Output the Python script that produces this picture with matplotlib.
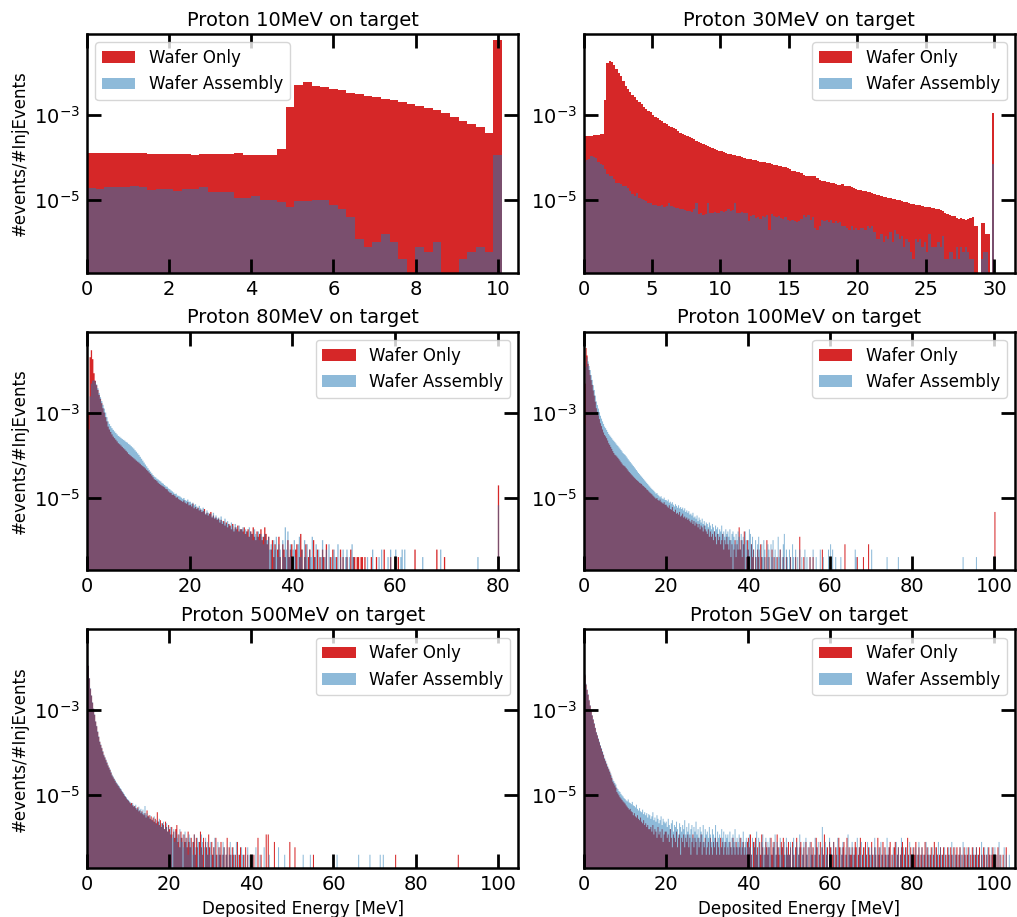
import numpy as np
import matplotlib
matplotlib.use('Agg')
import matplotlib.pyplot as plt
from matplotlib.ticker import NullLocator

N_INJ = 5e6  # injected protons per beam energy

titles = ['Proton 10MeV on target', 'Proton 30MeV on target',
          'Proton 80MeV on target', 'Proton 100MeV on target',
          'Proton 500MeV on target', 'Proton 5GeV on target']
x_max = [10.5, 31.5, 84, 105, 105, 105]
x_ticks = [range(0, 11, 2), range(0, 31, 5), range(0, 81, 20),
           range(0, 101, 20), range(0, 101, 20), range(0, 101, 20)]
legend_loc = ['upper left'] + ['upper right'] * 5

# counts per bin, wafer only (red) and wafer assembly (blue)
wafer10 = [650, 626, 650, 650, 626, 650, 626, 592, 592, 592,
           592, 592, 584, 612, 592, 592, 612, 626, 564, 564,
           564, 574, 784, 7620, 25700, 29800, 23900, 22600, 20700, 18900,
           16600, 15700, 14100, 12900, 11960, 10900, 10000, 8960, 8040, 7200,
           6340, 5560, 4400, 3680, 3060, 2560, 1870, 290000]
assembly10 = [96, 91, 102, 102, 102, 109, 100, 85, 91, 91,
              80, 91, 91, 100, 76, 76, 76, 57, 57, 63,
              51, 51, 44, 35, 48, 48, 51, 51, 37, 31,
              20, 6, 4, 5, 8, 5, 2, 0, 4, 3,
              5, 0, 0, 2, 3, 4, 3, 575]

wafer30 = [1600, 1580, 1620, 1600, 1650, 1680, 1700, 1750, 1800, 10900,
           85000, 92700, 88000, 75000, 61500, 49000, 40000, 30600, 24500, 20000,
           17000, 15000, 13000, 11300, 10000, 9000, 7800, 6800, 6300, 5700,
           4900, 4500, 4150, 3810, 3500, 3250, 3050, 2800, 2600, 2400,
           2280, 2100, 1920, 1800, 1700, 1600, 1490, 1400, 1330, 1215,
           1150, 1090, 1030, 960, 920, 890, 830, 800, 760, 725,
           690, 665, 635, 610, 590, 568, 555, 540, 525, 505,
           485, 470, 460, 450, 435, 425, 410, 400, 390, 385,
           375, 360, 350, 340, 330, 320, 310, 300, 290, 275,
           260, 242, 235, 225, 221, 210, 195, 185, 180, 182,
           178, 180, 160, 150, 140, 138, 135, 130, 128, 126,
           120, 115, 112, 118, 108, 105, 106, 100, 95, 90,
           86, 84, 82, 80, 78, 76, 72, 70, 66, 64,
           62, 60, 58, 56, 55, 54, 52, 50, 51, 48,
           45, 44, 42, 41, 40, 38, 37, 37, 36, 35,
           34, 34, 33, 32, 30, 30, 29, 27, 25, 23,
           22, 21, 21, 19, 18, 19, 18, 17, 18, 19,
           20, 12, 12, 0, 14, 14, 8, 8, 0, 5520]
assembly30 = [381, 430, 457, 528, 510, 473, 381, 348, 330, 265,
              202, 184, 184, 154, 128, 128, 117, 107, 107, 93,
              82, 70, 62, 74, 57, 52, 50, 47, 43, 43,
              39, 39, 36, 36, 37, 35, 36, 43, 36, 35,
              33, 33, 30, 31, 29, 28, 27, 26, 30, 43,
              23, 24, 22, 23, 43, 25, 24, 26, 25, 24,
              27, 26, 28, 30, 28, 29, 43, 25, 24, 26,
              25, 24, 16, 21, 22, 19, 20, 18, 21, 20,
              22, 10, 23, 21, 20, 21, 19, 18, 20, 17,
              16, 17, 16, 15, 16, 18, 22, 20, 22, 17,
              20, 11, 10, 12, 17, 16, 17, 15, 17, 14,
              16, 14, 15, 12, 12, 11, 10, 12, 10, 11,
              10, 11, 11, 10, 12, 11, 12, 9, 6, 6,
              8, 5, 7, 6, 9, 5, 10, 8, 6, 7,
              4, 6, 5, 3, 2, 6, 5, 6, 4, 5,
              3, 8, 4, 4, 4, 5, 4, 7, 2, 2,
              3, 3, 2, 4, 2, 4, 3, 4, 3, 2,
              2, 0, 0, 0, 2, 3, 3, 0, 0, 341]

# 0.25 MeV bins from here on, one row per 5 MeV
wafer80 = [4500, 5000, 100000, 146000, 90000, 42000, 28000, 22000, 17000, 13000, 10500, 8300, 6300, 5000, 3900, 3100, 2340, 2000, 1750, 1530,
           1360, 1250, 1150, 1050, 950, 900, 840, 780, 725, 680, 630, 580, 530, 500, 470, 445, 420, 395, 370, 350,
           333, 312, 290, 275, 260, 243, 225, 210, 194, 180, 165, 150, 135, 130, 122, 112, 105, 100, 95, 91,
           87, 80, 78, 70, 66, 64, 58, 59, 55, 50, 51, 46, 44, 42, 40, 43, 38, 36, 39, 33,
           34, 31, 36, 28, 30, 27, 29, 25, 26, 23, 24, 27, 20, 22, 19, 21, 23, 17, 19, 16,
           17, 15, 16, 13, 15, 12, 14, 11, 13, 10, 12, 11, 9, 12, 8, 10, 9, 11, 8, 9,
           9, 8, 10, 7, 8, 9, 6, 8, 7, 10, 6, 5, 8, 6, 7, 9, 5, 6, 10, 7,
           4, 6, 0, 3, 5, 2, 4, 0, 3, 6, 2, 0, 4, 3, 2, 0, 5, 2, 3, 4,
           2, 0, 3, 4, 0, 2, 7, 3, 0, 2, 4, 0, 2, 3, 0, 0, 5, 2, 0, 3,
           0, 2, 0, 3, 2, 0, 4, 0, 0, 2, 0, 3, 0, 0, 2, 0, 0, 3, 0, 2]
wafer80_tail = {50.6: 2, 51.4: 3, 51.9: 2, 52.1: 2, 52.6: 2, 52.9: 2, 53.4: 2,
                53.6: 2, 54.1: 2, 55.4: 2, 56.4: 2, 57.9: 3, 59.1: 2, 60.6: 2,
                63.9: 3, 68.1: 3, 69.6: 2, 80.1: 97}
assembly80 = [1700, 2000, 12000, 24000, 28000, 29000, 27000, 23000, 18700, 14500, 11500, 9300, 7600, 6200, 5000, 3900, 3100, 2700, 2400, 2150,
              1960, 1800, 1660, 1530, 1410, 1350, 1270, 1200, 1140, 1090, 1020, 980, 915, 870, 810, 760, 710, 650, 600, 550,
              505, 455, 410, 370, 333, 300, 272, 246, 224, 204, 186, 170, 156, 150, 139, 133, 126, 120, 111, 106,
              99, 92, 90, 82, 79, 74, 70, 66, 61, 62, 56, 55, 53, 50, 47, 49, 44, 42, 45, 40,
              40, 36, 38, 33, 35, 31, 28, 32, 28, 26, 29, 24, 21, 25, 22, 20, 21, 18, 22, 17,
              19, 16, 17, 15, 18, 14, 13, 16, 12, 14, 12, 10, 13, 11, 9, 12, 10, 8, 11, 9,
              9, 10, 7, 9, 8, 6, 10, 8, 7, 5, 9, 7, 6, 8, 5, 7, 6, 4, 7, 5,
              5, 6, 3, 4, 0, 5, 3, 6, 2, 4, 3, 0, 5, 2, 10, 3, 8, 2, 4, 0,
              3, 5, 2, 0, 4, 6, 2, 3, 0, 5, 2, 4, 0, 3, 2, 6, 0, 2, 4, 0,
              3, 0, 2, 5, 0, 2, 3, 0, 4, 0, 2, 0, 3, 2, 0, 4, 0, 2, 0, 3]
assembly80_tail = {50.3: 2, 50.6: 3, 51.1: 2, 51.6: 4, 51.9: 2, 54.6: 2, 55.6: 3,
                   56.9: 2, 57.4: 3, 58.6: 2, 59.1: 3, 60.1: 3, 61.1: 2, 61.4: 3,
                   61.9: 3, 65.4: 2, 68.9: 3, 76.1: 2, 80.1: 33}

wafer100 = [2800, 24000, 165000, 110000, 70000, 50000, 38000, 29000, 22400, 16500, 12500, 9000, 6320, 5200, 4300, 3500, 2800, 2400, 2000, 1700,
            1490, 1380, 1250, 1100, 950, 870, 780, 700, 620, 560, 510, 490, 461, 430, 400, 370, 340, 315, 290, 280,
            268, 250, 232, 215, 200, 188, 176, 166, 156, 147, 139, 131, 125, 119, 112, 108, 105, 97, 93, 88,
            84, 78, 75, 70, 66, 63, 60, 56, 53, 50, 47, 49, 44, 42, 45, 40, 38, 36, 39, 34,
            34, 31, 29, 33, 27, 26, 30, 24, 23, 26, 21, 22, 20, 23, 18, 19, 21, 17, 18, 16,
            17, 15, 16, 14, 13, 15, 12, 14, 11, 13, 12, 10, 12, 9, 11, 10, 8, 11, 9, 8,
            7, 9, 6, 8, 6, 7, 5, 8, 6, 4, 7, 5, 6, 4, 5, 7, 3, 5, 4, 6,
            4, 3, 5, 2, 4, 0, 3, 5, 2, 4, 3, 10, 3, 5, 2, 4, 8, 0, 2, 5,
            3, 2, 0, 4, 2, 3, 0, 2, 0, 3, 2, 0, 4, 2, 0, 0, 2, 0, 5, 0,
            2, 0, 0, 3, 0, 2, 0, 0, 2, 0, 0, 3, 0, 0, 2, 0, 0, 2, 0, 0]
wafer100_tail = {50.4: 2, 51.6: 2, 52.6: 6, 53.6: 2, 55.1: 2, 55.9: 2, 58.1: 3,
                 63.6: 4, 66.6: 2, 68.1: 2, 69.4: 4, 100.1: 23}
assembly100 = [2500, 2600, 60000, 100000, 80000, 62000, 50000, 38000, 29300, 22000, 17000, 12500, 9100, 7500, 6200, 5100, 4200, 3600, 3100, 2700,
               2340, 2150, 1950, 1750, 1570, 1450, 1350, 1250, 1150, 1080, 1010, 940, 870, 820, 760, 710, 660, 610, 560, 530,
               505, 470, 435, 400, 370, 345, 320, 298, 278, 258, 240, 222, 205, 190, 178, 166, 156, 146, 136, 127,
               119, 111, 104, 97, 91, 85, 80, 76, 72, 67, 62, 64, 58, 55, 51, 54, 48, 46, 50, 44,
               44, 41, 45, 38, 40, 36, 39, 34, 31, 35, 32, 29, 33, 28, 30, 27, 29, 25, 28, 23,
               25, 22, 24, 20, 21, 19, 22, 17, 18, 16, 19, 14, 17, 15, 13, 16, 12, 14, 11, 13,
               12, 10, 13, 11, 9, 12, 10, 8, 11, 9, 10, 7, 9, 8, 11, 7, 8, 6, 9, 7,
               8, 6, 9, 5, 7, 8, 6, 4, 7, 5, 8, 6, 3, 7, 5, 6, 4, 8, 5, 3,
               5, 9, 7, 4, 6, 3, 0, 5, 2, 4, 6, 3, 0, 4, 2, 5, 3, 0, 2, 4,
               3, 0, 4, 2, 5, 0, 3, 2, 0, 6, 2, 3, 0, 2, 4, 7, 0, 3, 2, 0]
assembly100_tail = {50.1: 3, 50.4: 2, 50.9: 4, 51.1: 2, 51.6: 3, 52.1: 2, 52.6: 3,
                    53.1: 2, 53.9: 3, 54.4: 2, 55.1: 2, 55.9: 3, 56.6: 2, 57.6: 3,
                    58.4: 2, 59.6: 3, 60.1: 4, 60.6: 3, 61.4: 2, 62.6: 2, 66.1: 3,
                    66.4: 2, 70.1: 3, 73.9: 2, 76.6: 2, 92.4: 2, 95.6: 2, 100.1: 2}

wafer500 = [110000, 55000, 28000, 16000, 11000, 7500, 5400, 3900, 2700, 2100, 1550, 1180, 900, 760, 640, 530, 436, 385, 335, 290,
            250, 222, 196, 170, 146, 132, 120, 108, 97, 90, 83, 76, 70, 64, 59, 54, 49, 46, 42, 39,
            37, 34, 32, 33, 29, 27, 28, 25, 23, 26, 21, 22, 19, 21, 18, 17, 19, 15, 22, 16,
            17, 14, 16, 13, 15, 12, 14, 11, 20, 12, 10, 13, 9, 11, 10, 8, 12, 9, 7, 10,
            8, 6, 9, 0, 7, 5, 8, 10, 4, 6, 3, 7, 5, 0, 6, 4, 5, 3, 7, 4,
            3, 5, 0, 4, 6, 2, 5, 3, 0, 4, 7, 3, 2, 5, 0, 4, 3, 2, 6, 3,
            0, 4, 2, 3, 0, 5, 2, 0, 3, 2, 4, 0, 2, 3, 0, 2, 5, 0, 3, 2,
            0, 3, 2, 0, 2, 0, 4, 0, 2, 3, 0, 0, 2, 0, 3, 0, 2, 0, 0, 2]
wafer500_tail = {40.6: 2, 41.6: 5, 42.4: 2, 43.6: 6, 44.1: 6, 45.6: 4, 49.4: 4,
                 50.6: 3, 55.1: 2, 75.1: 2, 90.4: 2}
assembly500 = [105000, 56000, 28500, 16500, 11200, 7700, 5500, 4000, 2750, 2150, 1600, 1220, 930, 790, 660, 550, 455, 400, 350, 305,
               262, 230, 206, 178, 154, 140, 125, 115, 103, 95, 88, 82, 74, 69, 62, 58, 53, 48, 45, 41,
               39, 36, 34, 30, 33, 29, 27, 30, 25, 24, 27, 22, 24, 20, 23, 19, 28, 17, 19, 16,
               15, 17, 13, 14, 12, 16, 11, 13, 10, 12, 14, 9, 11, 10, 12, 8, 9, 11, 7, 9,
               7, 9, 5, 6, 8, 4, 7, 5, 6, 3, 8, 5, 4, 6, 3, 7, 4, 5, 2, 6,
               5, 3, 4, 2, 6, 3, 0, 5, 4, 2, 3, 6, 4, 0, 3, 5, 2, 4, 3, 2,
               4, 2, 0, 3, 5, 2, 0, 4, 2, 3, 0, 2, 4, 3, 0, 2, 3, 0, 2, 4,
               2, 0, 3, 2, 0, 4, 0, 2, 0, 0, 3, 2, 0, 2, 0, 0, 3, 0, 2, 0]
assembly500_tail = {40.4: 2, 41.1: 3, 42.1: 2, 43.1: 3, 44.4: 2, 46.6: 3, 48.1: 2,
                    52.6: 2, 54.4: 2, 60.9: 2, 66.1: 2, 68.9: 2, 71.4: 2, 72.1: 2}

wafer5000 = [57000, 33000, 20000, 15000, 11500, 8500, 6400, 4900, 3750, 3000, 2400, 1900, 1500, 1270, 1050, 880, 730, 620, 520, 440,
             360, 315, 270, 232, 205, 178, 152, 128, 105, 95, 85, 76, 60, 55, 50, 45, 42, 39, 36, 34,
             32, 29, 27, 25, 23, 24, 21, 20, 17, 19, 16, 15, 17, 14, 13, 15, 12, 11, 13, 10,
             11, 9, 10, 8, 8, 9, 7, 10, 6, 8, 7, 5, 9, 6, 7, 5, 8, 4, 6, 7,
             7, 5, 6, 4, 8, 5, 3, 6, 5, 4, 7, 3, 5, 6, 2, 5, 4, 6, 3, 5,
             4, 6, 3, 5, 2, 4, 6, 3, 5, 4, 2, 5, 3, 4, 6, 2, 4, 3, 5, 2,
             3, 4, 2, 5, 3, 2, 4, 3, 5, 2, 4, 3, 2, 5, 3, 4, 2, 3, 4, 2,
             3, 2, 4, 3, 2, 5, 3, 2, 4, 3, 2, 3, 5, 2, 3, 4, 2, 3, 2, 4,
             5, 3, 6, 2, 0, 4, 3, 5, 2, 3, 0, 4, 2, 6, 3, 0, 2, 4, 3, 2,
             3, 0, 5, 2, 3, 4, 0, 2, 6, 3, 2, 0, 4, 3, 5, 2, 0, 3, 2, 4,
             2, 3, 0, 4, 2, 0, 3, 5, 0, 2, 3, 4, 0, 2, 3, 0, 4, 2, 0, 3,
             0, 4, 2, 3, 0, 2, 5, 3, 0, 2, 4, 0, 3, 2, 6, 0, 2, 3, 0, 4,
             3, 0, 2, 4, 0, 3, 2, 0, 5, 3, 0, 2, 3, 4, 0, 2, 5, 0, 3, 2,
             2, 3, 0, 2, 4, 3, 0, 2, 3, 5, 0, 2, 3, 0, 4, 2, 0, 3, 2, 0,
             4, 2, 0, 3, 2, 0, 5, 2, 3, 0, 2, 4, 0, 3, 2, 0, 2, 3, 4, 0,
             2, 0, 3, 4, 0, 2, 3, 0, 2, 3, 4, 0, 2, 3, 0, 5, 2, 0, 3, 2,
             0, 3, 2, 4, 0, 2, 3, 0, 2, 3, 0, 2, 4, 0, 3, 2, 0, 2, 3, 0,
             2, 4, 0, 3, 2, 0, 2, 3, 0, 2, 3, 0, 2, 0, 3, 2, 0, 3, 2, 0,
             3, 0, 2, 3, 0, 2, 3, 0, 2, 0, 3, 2, 0, 2, 3, 0, 2, 0, 3, 2,
             0, 2, 3, 0, 2, 3, 0, 2, 0, 3, 2, 0, 2, 0, 3, 2, 0, 2, 3, 0,
             0, 2, 0, 3, 0, 2, 0, 0, 2, 0, 0, 3, 0, 0, 0, 0, 0, 0, 0, 0]
assembly5000 = [60000, 35000, 21000, 15500, 12000, 8800, 6600, 5000, 3850, 3100, 2500, 1950, 1550, 1320, 1100, 920, 760, 650, 550, 460,
                380, 330, 285, 245, 215, 190, 165, 140, 118, 108, 98, 90, 75, 70, 63, 60, 54, 50, 47, 43,
                41, 38, 36, 40, 34, 33, 31, 35, 29, 28, 26, 30, 24, 22, 25, 21, 20, 23, 18, 20,
                17, 19, 15, 18, 17, 14, 16, 20, 13, 15, 12, 17, 14, 11, 13, 16, 10, 14, 12, 11,
                12, 9, 14, 10, 8, 11, 13, 7, 10, 9, 12, 8, 6, 11, 9, 7, 10, 8, 13, 6,
                9, 7, 11, 6, 8, 10, 5, 9, 7, 12, 6, 8, 5, 9, 7, 6, 10, 4, 8, 6,
                7, 5, 9, 6, 4, 8, 6, 5, 10, 4, 7, 5, 6, 3, 8, 5, 7, 4, 6, 5,
                6, 4, 7, 3, 5, 6, 4, 8, 3, 5, 4, 6, 3, 5, 4, 7, 3, 4, 5, 3,
                4, 6, 3, 2, 5, 0, 4, 3, 7, 2, 5, 3, 0, 4, 6, 2, 3, 5, 2, 4,
                3, 5, 2, 0, 4, 3, 6, 2, 4, 0, 3, 5, 2, 3, 0, 4, 2, 5, 3, 2,
                2, 4, 0, 3, 5, 2, 0, 4, 3, 2, 6, 0, 3, 2, 4, 0, 5, 2, 3, 0,
                4, 2, 3, 0, 2, 5, 3, 0, 4, 2, 0, 3, 9, 2, 0, 4, 3, 2, 0, 5,
                2, 3, 0, 4, 2, 0, 3, 5, 2, 0, 3, 2, 4, 0, 2, 3, 0, 6, 2, 3,
                0, 4, 2, 3, 0, 2, 5, 0, 3, 2, 4, 0, 2, 3, 0, 2, 4, 0, 3, 2,
                3, 0, 2, 5, 3, 0, 2, 3, 0, 4, 2, 0, 3, 2, 0, 5, 2, 3, 0, 2,
                0, 3, 2, 0, 4, 2, 3, 0, 2, 5, 0, 3, 2, 0, 3, 2, 0, 4, 2, 0,
                3, 2, 0, 3, 2, 0, 4, 2, 0, 3, 2, 0, 2, 4, 0, 3, 2, 0, 2, 3,
                0, 2, 3, 0, 2, 4, 0, 3, 2, 0, 2, 3, 0, 2, 0, 3, 2, 0, 4, 2,
                0, 3, 2, 0, 2, 0, 3, 2, 0, 4, 2, 0, 3, 0, 2, 3, 0, 2, 0, 3,
                2, 0, 3, 2, 0, 2, 0, 4, 2, 0, 3, 0, 2, 3, 0, 2, 0, 3, 0, 2,
                3, 0, 2, 0, 4, 0, 2, 0, 0, 3, 0, 2, 0, 0, 2, 0, 0, 0, 0, 0]


def per_event(edges, dense, tail=None):
    n = np.zeros(len(edges) - 1)
    n[:len(dense)] = dense
    for e, k in (tail or {}).items():
        n[np.searchsorted(edges, e) - 1] += k
    return n / N_INJ


edges10 = np.linspace(0, 10.1, 49)
edges30 = np.linspace(0, 30, 181)
edges80 = np.arange(322) * 0.25
edges100 = np.arange(402) * 0.25
edges105 = np.arange(421) * 0.25

hists = [
    (edges10, per_event(edges10, wafer10), per_event(edges10, assembly10)),
    (edges30, per_event(edges30, wafer30), per_event(edges30, assembly30)),
    (edges80, per_event(edges80, wafer80, wafer80_tail),
     per_event(edges80, assembly80, assembly80_tail)),
    (edges100, per_event(edges100, wafer100, wafer100_tail),
     per_event(edges100, assembly100, assembly100_tail)),
    (edges105, per_event(edges105, wafer500, wafer500_tail),
     per_event(edges105, assembly500, assembly500_tail)),
    (edges105, per_event(edges105, wafer5000), per_event(edges105, assembly5000)),
]

fig, axes = plt.subplots(3, 2, figsize=(10.17, 9.17), dpi=100)
fig.subplots_adjust(left=0.0855, right=0.998, top=0.963, bottom=0.0534,
                    wspace=0.151, hspace=0.247)

for i, ax in enumerate(axes.flat):
    edges, red, blue = hists[i]
    ax.hist(edges[:-1], bins=edges, weights=red, histtype='stepfilled', log=True,
            color='tab:red', label='Wafer Only')
    ax.hist(edges[:-1], bins=edges, weights=blue, histtype='stepfilled', log=True,
            color='tab:blue', alpha=0.5, label='Wafer Assembly')
    ax.set_xlim(0, x_max[i])
    ax.set_ylim(1.95e-7, 0.08)
    ax.set_xticks(list(x_ticks[i]))
    ax.set_yticks([1e-5, 1e-3])
    ax.yaxis.set_minor_locator(NullLocator())
    ax.tick_params(which='major', direction='in', length=10, width=2,
                   labelsize=14, top=True, right=True, pad=5)
    for s in ax.spines.values():
        s.set_linewidth(1.8)
    ax.set_title(titles[i], fontsize=14)
    ax.legend(loc=legend_loc[i], fontsize=12)
    if i % 2 == 0:
        ax.set_ylabel('#events/#InjEvents', fontsize=12)
    if i >= 4:
        ax.set_xlabel('Deposited Energy [MeV]', fontsize=12)

fig.savefig('out.png')
